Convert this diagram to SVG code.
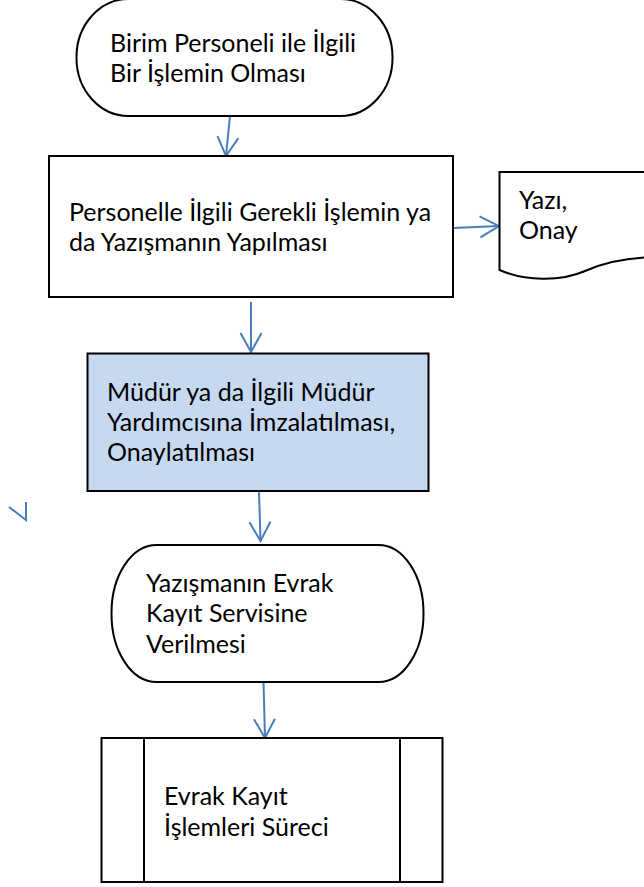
<svg xmlns="http://www.w3.org/2000/svg" width="644" height="887" viewBox="0 0 644 887">
<style>
.shape{fill:#fff;stroke:#000;stroke-width:2}
.blue{fill:#C6D9F1;stroke:#000;stroke-width:2}
.t{font-family:Lato,"Liberation Sans",sans-serif;font-size:25px;fill:#000}
.c{fill:none;stroke:#4A7EBB;stroke-width:2}
</style>
<defs>
<marker id="ah" viewBox="-22 -13 26 26" markerWidth="26" markerHeight="26" refX="0" refY="0" orient="auto" markerUnits="userSpaceOnUse">
<path d="M-19,-10.5 L0,0 L-19,10.5" fill="none" stroke="#4A7EBB" stroke-width="2"/>
</marker>
</defs>
<rect width="644" height="887" fill="#fff"/>
<g id="connectors">
<path class="c" d="M230,116 L226,156" marker-end="url(#ah)"/>
<path class="c" d="M453,228 L499,226" marker-end="url(#ah)"/>
<path class="c" d="M251,302 L251,352" marker-end="url(#ah)"/>
<path class="c" d="M259,491 L260.5,541" marker-end="url(#ah)"/>
<path class="c" d="M263.5,682 L265,738" marker-end="url(#ah)"/>
<polyline class="c" points="9,507 26,520 26,502"/>
</g>
<g id="start">
<rect class="shape" x="76.5" y="-1" width="316" height="117" rx="52" ry="58"/>
<text class="t" x="110" y="52">Birim Personeli ile İlgili</text>
<text class="t" x="110" y="82">Bir İşlemin Olması</text>
</g>
<g id="islem">
<rect class="shape" x="49" y="156" width="404" height="141"/>
<text class="t" x="69" y="221">Personelle İlgili Gerekli İşlemin ya</text>
<text class="t" x="69" y="251">da Yazışmanın Yapılması</text>
</g>
<g id="belge">
<path class="shape" d="M499.5,270 V172 H660 V257 C630,257 605,262 585,271 C560,282 525,281 499.5,270 Z"/>
<text class="t" x="519" y="209">Yazı,</text>
<text class="t" x="519" y="239">Onay</text>
</g>
<g id="imza">
<rect class="blue" x="87.5" y="353.5" width="341" height="137.5"/>
<text class="t" x="107" y="401">Müdür ya da İlgili Müdür</text>
<text class="t" x="107" y="431">Yardımcısına İmzalatılması,</text>
<text class="t" x="107" y="461">Onaylatılması</text>
</g>
<g id="evrak">
<rect class="shape" x="111.5" y="545" width="312" height="137" rx="45" ry="68"/>
<text class="t" x="146" y="592">Yazışmanın Evrak</text>
<text class="t" x="146" y="622">Kayıt Servisine</text>
<text class="t" x="146" y="653">Verilmesi</text>
</g>
<g id="surec">
<rect class="shape" x="101.5" y="738" width="341" height="144"/>
<line class="shape" x1="144" y1="738" x2="144" y2="882"/>
<line class="shape" x1="400" y1="738" x2="400" y2="882"/>
<text class="t" x="164" y="805">Evrak Kayıt</text>
<text class="t" x="164" y="836">İşlemleri Süreci</text>
</g>
</svg>
